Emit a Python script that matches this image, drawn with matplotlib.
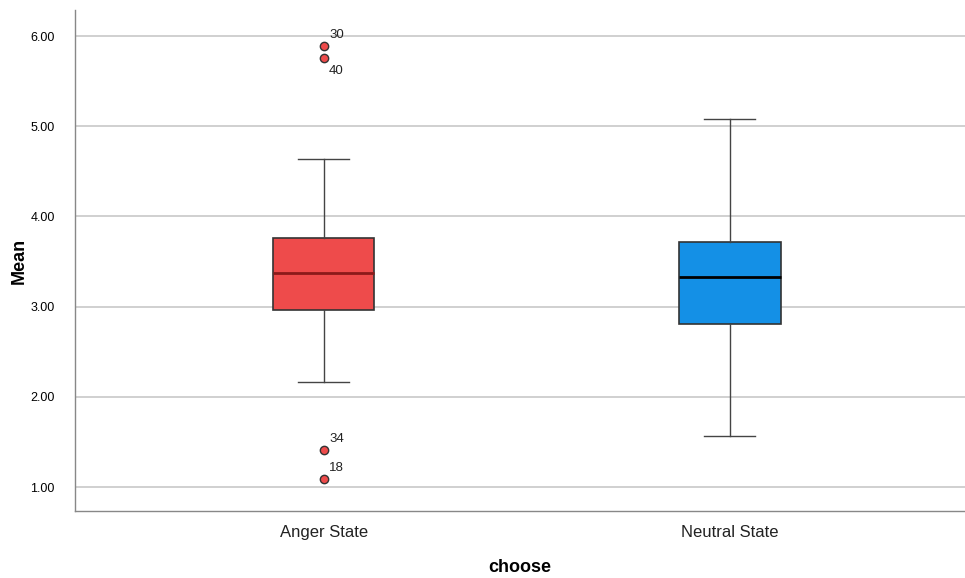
import matplotlib
matplotlib.use("Agg")
import matplotlib.pyplot as plt

categories = ["Anger State", "Neutral State"]
whislo = [2.16, 1.57]
q1 = [2.96, 2.81]
med = [3.37, 3.33]
q3 = [3.76, 3.72]
whishi = [4.64, 5.08]
outliers = [[5.89, 5.76, 1.41, 1.09], []]
outlier_ids = [["30", "40", "34", "18"], []]
colors = ["#EE4B4B", "#1490E6"]
median_colors = ["#8B1A1A", "#000000"]
yticks = [1.0, 2.0, 3.0, 4.0, 5.0, 6.0]

plt.rcParams["font.family"] = ["Liberation Sans", "DejaVu Sans"]

fig = plt.figure(figsize=(9.65, 5.78), dpi=100)
ax = fig.add_axes([75 / 965, 1 - 511 / 578, 890 / 965, 501 / 578])

stats = []
for i, c in enumerate(categories):
    stats.append(dict(label=c, whislo=whislo[i], q1=q1[i], med=med[i],
                      q3=q3[i], whishi=whishi[i], fliers=[]))

positions = list(range(len(categories)))
bp = ax.bxp(stats, positions=positions, widths=0.25, patch_artist=True,
            showfliers=False, capwidths=0.125,
            boxprops=dict(edgecolor="#333333", linewidth=1.2),
            whiskerprops=dict(color="#444444", linewidth=1.0),
            capprops=dict(color="#444444", linewidth=1.0),
            medianprops=dict(linewidth=2.0), zorder=3)
for i, box in enumerate(bp["boxes"]):
    box.set_facecolor(colors[i])
for i, m in enumerate(bp["medians"]):
    m.set_color(median_colors[i])

for i, vals in enumerate(outliers):
    for v, lab in zip(vals, outlier_ids[i]):
        ax.scatter([positions[i]], [v], s=36, color=colors[i],
                   edgecolor="#333333", linewidth=1.0, zorder=4)
        if lab == "40":
            off = (4, -12)
        elif lab == "30":
            off = (4, 6)
        else:
            off = (4, 6)
        ax.annotate(lab, (positions[i], v), xytext=off, textcoords="offset points",
                    fontsize=9.5, color="#222222")

ax.set_ylim(0.734, 6.29)
ax.set_xlim(-0.612, 1.579)
ax.set_yticks(yticks)
ax.set_yticklabels([f"{t:.2f}" for t in yticks], fontsize=9)
ax.set_xticks(positions)
ax.set_xticklabels(categories, fontsize=12, color="#222222")
ax.tick_params(axis="y", length=0, pad=32)
ax.tick_params(axis="x", length=0, pad=10)
for lab in ax.get_yticklabels():
    lab.set_horizontalalignment("left")
ax.grid(axis="y", color="#C8C8C8", linewidth=1.2, zorder=0)
ax.set_axisbelow(True)
for s in ["top", "right"]:
    ax.spines[s].set_visible(False)
for s in ["left", "bottom"]:
    ax.spines[s].set_color("#888888")
    ax.spines[s].set_linewidth(1.0)

ax.set_ylabel("Mean", fontsize=13, fontweight="bold", labelpad=2)
ax.set_xlabel("choose", fontsize=13, fontweight="bold", labelpad=14)

fig.savefig("out.png", dpi=100)
